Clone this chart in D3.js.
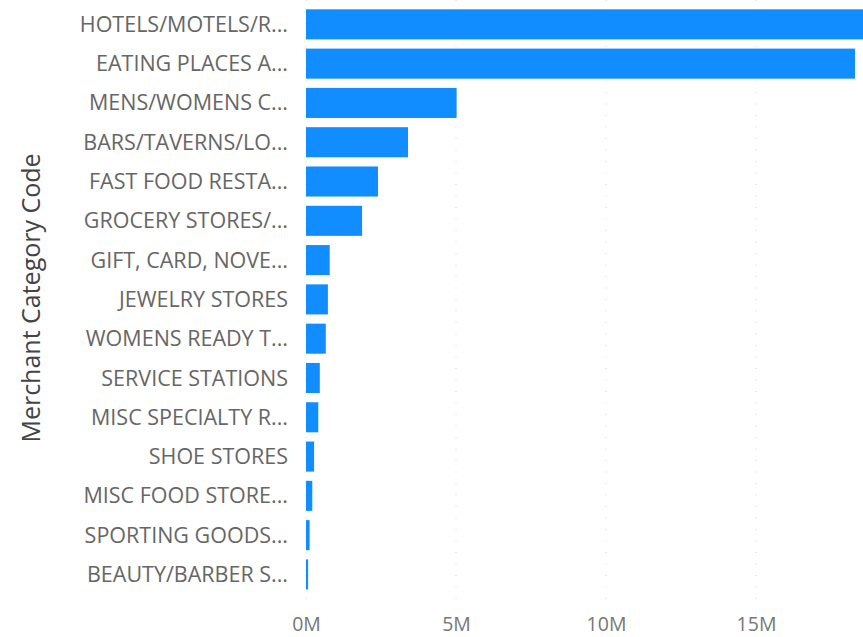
<!DOCTYPE html>
<html>
<head>
<meta charset="utf-8">
<script src="https://cdn.jsdelivr.net/npm/d3@7"></script>
<style>
  body { margin: 0; background: #fff; }
  svg text { font-family: "Segoe UI", "Open Sans", "Noto Sans", sans-serif; }
</style>
</head>
<body>
<svg id="chart" width="863" height="637"></svg>
<script>
// merchant categories, top to bottom
const categories = [
  "HOTELS/MOTELS/R...", "EATING PLACES A...", "MENS/WOMENS C...", "BARS/TAVERNS/LO...",
  "FAST FOOD RESTA...", "GROCERY STORES/...", "GIFT, CARD, NOVE...", "JEWELRY STORES",
  "WOMENS READY T...", "SERVICE STATIONS", "MISC SPECIALTY R...", "SHOE STORES",
  "MISC FOOD STORE...", "SPORTING GOODS...", "BEAUTY/BARBER S..."
]
// amounts in millions
const amounts = [19.6, 18.3, 5.02, 3.4, 2.4, 1.87, 0.79, 0.73, 0.66, 0.46, 0.41, 0.27, 0.21, 0.12, 0.07]
const tickValues = [0, 5, 10, 15]
const axisTitle = "Merchant Category Code"

const svg = d3.select('#chart')
const left = 306

let x = d3.scaleLinear().domain([0, 20]).range([left, left + 600])
let y = d3.scaleBand().domain(categories).range([4.7, 594.1]).paddingInner(0.235).paddingOuter(0.1175)

// dotted gridlines
svg.append('g').selectAll('line')
    .data(tickValues)
    .join('line')
    .attr('x1', d => x(d)).attr('x2', d => x(d))
    .attr('y1', 0).attr('y2', 600)
    .attr('stroke', '#d6d6d6')
    .attr('stroke-width', 1)
    .attr('stroke-dasharray', '1,10.5')

// bars
svg.append('g').selectAll('rect')
    .data(amounts)
    .join('rect')
    .attr('x', x(0))
    .attr('y', (d, i) => y(categories[i]))
    .attr('width', d => x(d) - x(0))
    .attr('height', y.bandwidth())
    .attr('fill', '#118DFF')

// category labels
let yAxis = svg.append('g')
    .attr('transform', `translate(${left - 18},0)`)
    .call(d3.axisLeft(y).tickSize(0).tickPadding(0))
yAxis.select('.domain').remove()
yAxis.selectAll('text')
    .attr('fill', '#666')
    .style('font-size', '21.5px')
    .attr('dy', '0.35em')

// value axis
let xAxis = svg.append('g')
    .attr('transform', 'translate(0,617)')
    .call(d3.axisBottom(x).tickValues(tickValues).tickSize(0).tickPadding(0).tickFormat(d => d + 'M'))
xAxis.select('.domain').remove()
xAxis.selectAll('text')
    .attr('fill', '#777')
    .style('font-size', '19.5px')
    .attr('dy', '0.71em')

svg.append('text')
    .attr('transform', 'translate(31,298) rotate(-90)')
    .attr('text-anchor', 'middle')
    .attr('dy', '0.35em')
    .attr('fill', '#444')
    .style('font-size', '25px')
    .text(axisTitle)
</script>
</body>
</html>
